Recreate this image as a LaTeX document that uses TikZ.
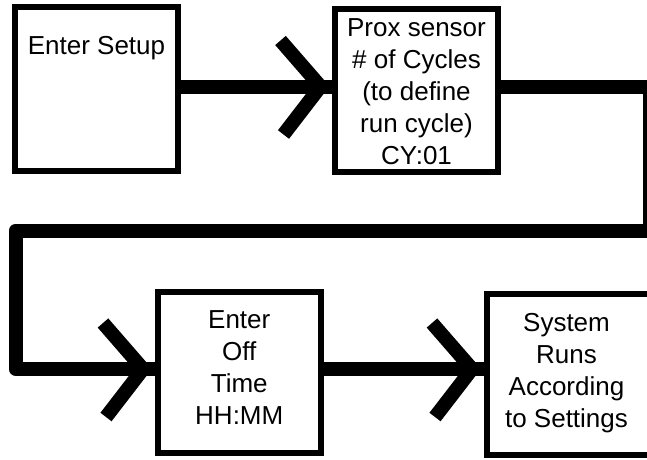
\documentclass[tikz,border=0pt]{standalone}
\usepackage{fontspec}
\setmainfont{Liberation Sans}
\begin{document}
\begin{tikzpicture}[x=1pt,y=-1pt,
  box/.style={draw=black,line width=6pt,inner sep=0pt,rectangle},
  conn/.style={draw=black,line width=14pt,line join=round,line cap=butt},
  chev/.style={draw=black,line width=14pt,line join=miter,line cap=butt},
  txt/.style={font=\fontsize{26}{32}\selectfont,align=center,inner sep=0pt}]
\fill[white] (0,0) rectangle (647,459);
\useasboundingbox (0,0) rectangle (647,459);
% boxes
\node[box,minimum width=163pt,minimum height=164pt] (b1) at (96.5,89) {};
\node[box,minimum width=163pt,minimum height=162.2pt] (b2) at (416.5,90.4) {};
\node[box,minimum width=163.5pt,minimum height=161.5pt] (b3) at (239.25,372.25) {};
\node[box,minimum width=164.5pt,minimum height=161.5pt] (b4) at (568.75,374.25) {};
% texts
\node[txt,anchor=base] (t1) at (96.5,54) {Enter Setup};
\node[txt] (t2) at (416.5,91.7) {Prox sensor\\\# of Cycles\\(to define\\run cycle)\\CY:01};
\node[txt] (t3) at (239.25,367.2) {Enter\\Off\\Time\\HH:MM};
\node[txt] (t4) at (566.5,372.8) {System\\Runs\\According\\to Settings};
% row levels and loop corners
\coordinate (r1) at (0,86.5);
\coordinate (r2) at (0,369);
\coordinate (ce) at (650,230.5);
\coordinate (cw) at (15.5,230.5);
% connectors
\draw[conn] (b1.east |- r1) -- (b2.west |- r1);
\draw[conn] (b2.east |- r1) -| (ce) -- (cw) |- (b3.west |- r2);
\draw[conn] (b3.east |- r2) -- (b4.west |- r2);
% chevron heads
\path (b2.west |- r1) ++(-11.5,0) coordinate (v1);
\path (b3.west |- r2) ++(-11.5,0) coordinate (v2);
\path (b4.west |- r2) ++(-11.5,0) coordinate (v3);
\foreach \v in {v1,v2,v3}{
  \draw[chev] (\v) ++(-40,-46) -- (\v) -- ++(-37,48);
}
\end{tikzpicture}
\end{document}
